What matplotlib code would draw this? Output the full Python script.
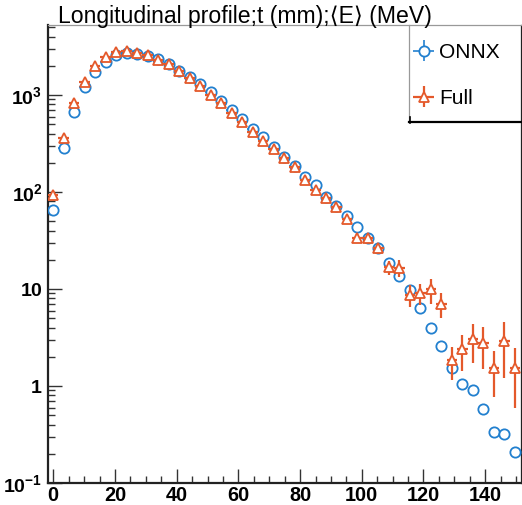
#!/usr/bin/env python
# coding: utf-8

# Longitudinal shower profile, ONNX vs Full simulation (ROOT-like look)

import numpy as np
import matplotlib
matplotlib.use('Agg')
import matplotlib.pyplot as plt
from matplotlib.lines import Line2D

# Data
bin_width = 3.4   # mm
n_bins = 45
t = np.arange(n_bins) * bin_width

onnx = [66, 282, 673, 1218, 1715, 2204, 2585, 2731, 2648, 2524,
        2334, 2072, 1768, 1521, 1289, 1066, 874, 700, 566, 450,
        365, 293, 231, 185, 143, 117, 89.5, 71.2, 56.3, 43.9,
        33.3, 26.7, 18.7, 13.7, 9.86, 6.32, 4.01, 2.58, 1.52, 1.04,
        0.903, 0.583, 0.336, 0.318, 0.209]
onnx_err = [0.0] * n_bins

full = [93, 358, 833, 1372, 2006, 2447, 2756, 2842, 2700, 2560,
        2300, 2072, 1781, 1486, 1238, 1000, 821, 657, 523, 419,
        334, 277, 222, 181, 133, 105, 86.1, 69.5, 52.7, 33.3,
        33.3, 26.3, 16.7, 16.5, 8.67, 9.03, 9.93, 7.0, 1.85, 2.39,
        3.03, 2.79, 1.54, 2.91, 1.54]
full_err = [4, 10, 18, 25, 30, 32, 33, 33, 32, 30,
            28, 26, 24, 22, 20, 18, 16, 14, 13, 12,
            11, 10, 9, 8, 7, 6, 5.5, 5, 4.5, 3.5,
            3.5, 3.2, 2.8, 3.3, 2.2, 2.2, 2.9, 2.0, 0.7, 0.95,
            1.3, 1.3, 0.77, 1.7, 0.95]

y_ticks = [0.1, 1, 10, 100, 1000]
y_labels = [r'$\mathbf{10^{-1}}$', r'$\mathbf{1}$', r'$\mathbf{10}$',
            r'$\mathbf{10^{2}}$', r'$\mathbf{10^{3}}$']

blue = '#2280cf'
orange = '#e4592b'

plt.rcParams['font.family'] = ['Liberation Sans', 'DejaVu Sans']
plt.rcParams['mathtext.fontset'] = 'custom'
plt.rcParams['mathtext.rm'] = 'Liberation Sans:bold'
plt.rcParams['mathtext.bf'] = 'Liberation Sans:bold'

W, H = 522, 505
fig = plt.figure(figsize=(W / 100, H / 100), dpi=100)
ax = fig.add_axes([48 / W, 1 - 483 / H, (521 - 48) / W, (483 - 25) / H])

# draw -- white filled markers hide the error bars inside them, like ROOT
h_onnx = ax.errorbar(t, onnx, yerr=onnx_err, xerr=bin_width / 2, fmt='o',
                     color=blue, mfc='white', mec=blue, ms=7.4, mew=1.3,
                     elinewidth=1.2, capsize=0, label='ONNX', zorder=3)
h_full = ax.errorbar(t, full, yerr=full_err, xerr=bin_width / 2, fmt='^',
                     color=orange, mfc='white', mec=orange, ms=7.8, mew=1.3,
                     elinewidth=1.6, capsize=0, label='Full', zorder=4)

ax.set_yscale('log')
ax.set_xlim(-bin_width / 2, n_bins * bin_width - bin_width / 2 + 0.3)
ax.set_ylim(0.1, 5270)

ax.set_yticks(y_ticks)
ax.set_yticklabels(y_labels)
ax.set_xticks(np.arange(0, 141, 20))
ax.set_xticks(np.arange(0, 151, 5), minor=True)
ax.set_xticklabels([str(v) for v in range(0, 141, 20)], fontweight='bold')

ax.tick_params(which='both', direction='in', top=False, right=False,
               labelsize=14, color='#333333')
ax.tick_params(which='major', length=10, width=1, pad=3)
ax.tick_params(which='minor', length=5, width=1)
ax.tick_params(axis='y', which='major', pad=4)
ax.tick_params(axis='x', labelsize=14.3, pad=2.5)

for s in ['left', 'bottom']:
    ax.spines[s].set_linewidth(1.6)
    ax.spines[s].set_color('#222222')
ax.spines['top'].set_color('#999999')
ax.spines['top'].set_linewidth(0.9)
ax.spines['right'].set_color('#222222')
ax.spines['right'].set_linewidth(0.9)

# title (ROOT keeps the raw string)
fig.text(58 / W, 1 - 23 / H, 'Longitudinal profile;t (mm);\u27e8E\u27e9 (MeV)',
         fontsize=16.6, va='baseline', ha='left')

# legend
leg = ax.legend(handles=[h_onnx, h_full], loc='upper left',
                bbox_to_anchor=(414 / W, 1 - 43 / H),
                bbox_transform=fig.transFigure, frameon=False, fontsize=15,
                borderpad=0, borderaxespad=0, handlelength=0.95,
                handletextpad=0.25, labelspacing=1.3)

# legend box with ROOT-style shadow
def px(x, y):
    return x / W, 1 - y / H

fig.add_artist(Line2D(*zip(px(409, 25), px(409, 121)), color='#999999', lw=0.9))
fig.add_artist(Line2D(*zip(px(409, 122), px(522, 122)), color='black', lw=1.6))
fig.add_artist(Line2D(*zip(px(410, 117), px(410, 123)), color='black', lw=1.2))

fig.savefig('out.png', dpi=100)
